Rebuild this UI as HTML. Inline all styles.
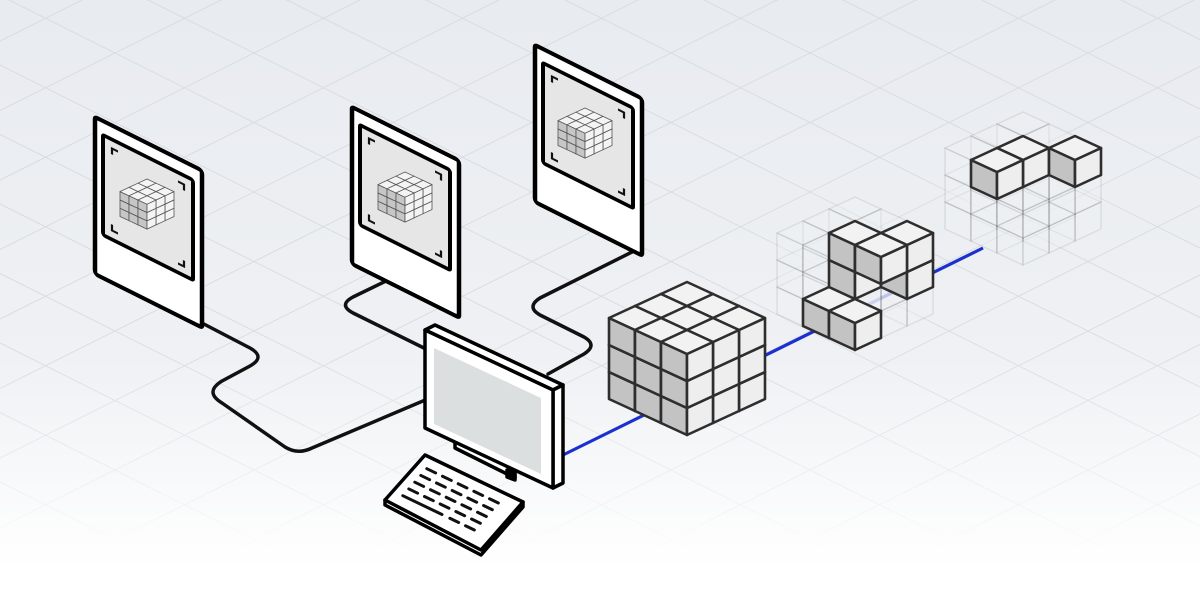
<!DOCTYPE html>
<html><head><meta charset="utf-8"><style>
html,body{margin:0;padding:0;width:1200px;height:600px;overflow:hidden;background:#fff}
svg{display:block;overflow:hidden}
</style></head><body>
<svg id="s" width="1200" height="600" viewBox="0 0 1200 600" xmlns="http://www.w3.org/2000/svg">
<defs>
<linearGradient id="bg" x1="0" y1="0" x2="0" y2="1">
<stop offset="0" stop-color="#e8ebf0"/><stop offset="0.6" stop-color="#eff1f4"/><stop offset="0.95" stop-color="#ffffff"/></linearGradient>
<linearGradient id="fm" x1="0" y1="0" x2="0" y2="1">
<stop offset="0" stop-color="#fff"/><stop offset="0.55" stop-color="#fff"/><stop offset="0.92" stop-color="#000"/></linearGradient>
<mask id="m"><rect width="1200" height="600" fill="url(#fm)"/></mask>
</defs>
<rect width="1200" height="600" fill="url(#bg)"/>
<g id="grid" mask="url(#m)" stroke="#d8dbe0" stroke-width="1"></g>
<g id="main"></g>
</svg>
<script>
var NS="http://www.w3.org/2000/svg";
function el(p,t,a){var e=document.createElementNS(NS,t);for(var k in a)e.setAttribute(k,a[k]);p.appendChild(e);return e;}
var grid=document.getElementById('grid'),g=document.getElementById('main');
for(var k=-20;k<30;k++){var c=-352+69.5*k;el(grid,'line',{x1:0,y1:c,x2:1200,y2:c+600});
var d=458+69.5*k;el(grid,'line',{x1:0,y1:d,x2:1200,y2:d-600});}
function pts(a){return a.map(function(p){return p[0].toFixed(1)+','+p[1].toFixed(1)}).join(' ');}
var cab={fill:'none',stroke:'#111','stroke-width':3.5,'stroke-linejoin':'round','stroke-linecap':'round'};
el(g,'path',Object.assign({d:'M200,322 L250,348 Q266,357 250,366 L222,381 Q204,392 222,403 L285,447 Q298,455 312,448 L430,398'},cab));
el(g,'path',Object.assign({d:'M388,280 L353,297 Q338,305 353,313 L432,352'},cab));
el(g,'path',Object.assign({d:'M640,248 L540,298 Q526,307 540,315 L584,337 Q598,345 584,354 L548,374'},cab));
el(g,'line',{x1:563,y1:455,x2:983,y2:248,stroke:'#1c30d0','stroke-width':3.2});
function cubes(ox,oy,dx,dy,h,list,st){
 list.sort(function(a,b){return (a[0]-a[1]+a[2])-(b[0]-b[1]+b[2]);});
 function P(x,y,z){return [ox+dx*(x+y),oy+dy*(x-y)-h*z];}
 list.forEach(function(c){var x=c[0],y=c[1],z=c[2];
  var top=[P(x,y,z+1),P(x+1,y,z+1),P(x+1,y+1,z+1),P(x,y+1,z+1)];
  var left=[P(x,y,z),P(x+1,y,z),P(x+1,y,z+1),P(x,y,z+1)];
  var right=[P(x+1,y,z),P(x+1,y+1,z),P(x+1,y+1,z+1),P(x+1,y,z+1)];
  el(g,'polygon',{points:pts(left),fill:st.g,stroke:st.s,'stroke-width':st.w,'stroke-linejoin':'round','fill-opacity':st.o});
  el(g,'polygon',{points:pts(right),fill:st.l,stroke:st.s,'stroke-width':st.w,'stroke-linejoin':'round','fill-opacity':st.o});
  el(g,'polygon',{points:pts(top),fill:st.t,stroke:st.s,'stroke-width':st.w,'stroke-linejoin':'round','fill-opacity':st.o});
 });}
function all3(){var r=[];for(var x=0;x<3;x++)for(var y=0;y<3;y++)for(var z=0;z<3;z++)r.push([x,y,z]);return r;}
var solid={g:'#c3c3c3',l:'#eeeeee',t:'#f2f2f2',s:'#2e2e2e',w:2.6,o:1};
var ghost={g:'#f0f2f5',l:'#f0f2f5',t:'#f0f2f5',s:'rgba(0,0,0,0.08)',w:1.5,o:0.3};
function panel(tx,ty,cx,cy){
 var pg=el(g,'g',{transform:'matrix(1,0.5,0,1,'+tx+','+ty+')'});
 el(pg,'rect',{x:0,y:0,width:107,height:157,rx:3,fill:'#fff',stroke:'#000','stroke-width':4.5});
 el(pg,'rect',{x:8,y:14,width:90,height:100,rx:2,fill:'#e6e6e6',stroke:'#000','stroke-width':4});
 var b={fill:'none',stroke:'#111','stroke-width':2.2};
 el(pg,'path',Object.assign({d:'M17,29 v-6 h6'},b));
 el(pg,'path',Object.assign({d:'M83,23 h6 v6'},b));
 el(pg,'path',Object.assign({d:'M17,99 v6 h6'},b));
 el(pg,'path',Object.assign({d:'M83,105 h6 v-6'},b));
 cubes(cx-27,cy+12.5,9,4.2,8.3,all3(),{g:'#c6c6c6',l:'#f4f4f4',t:'#f4f4f4',s:'#555',w:0.8,o:1});
}
panel(95,117,147,204);
panel(352,107,405,197);
panel(535,45,585,133);
var mk={stroke:'#000','stroke-width':3.5,'stroke-linejoin':'round'};
el(g,'polygon',Object.assign({points:'455,432 515,462 515,478 455,448',fill:'#fff'},mk));
el(g,'polygon',Object.assign({points:'507,470 515,474 515,480 507,477',fill:'#000'},mk));
el(g,'polygon',Object.assign({points:'425,330 435,325 563,385 553,390',fill:'#fff'},mk));
el(g,'polygon',Object.assign({points:'553,390 563,385 563,483 553,488',fill:'#fff'},mk));
el(g,'polygon',Object.assign({points:'425,330 553,390 553,488 425,428',fill:'#fff'},mk));
el(g,'polygon',{points:'434,348 541,398 541,474 434,424',fill:'#dcdfe0'});
el(g,'polygon',Object.assign({points:'385,500 385,505 481,555 523,507 523,502',fill:'#fff'},mk));
el(g,'polygon',Object.assign({points:'385,500 425,455 523,502 481,550',fill:'#fff'},mk));
(function(){var T=[425,455],L=[385,500],R=[523,502];
var vl=[L[0]-T[0],L[1]-T[1]],vr=[R[0]-T[0],R[1]-T[1]];
for(var r=0;r<5;r++){var t=0.2+0.15*r;var n=(r==4)?3:5;
 for(var c=0;c<n;c++){var s=0.1+0.16*c, e=s+((r==4&&c==0)?0.4:0.09); if(r==4&&c>0){s+=0.32;e=s+0.09;}
  el(g,'line',{x1:T[0]+vl[0]*t+vr[0]*s,y1:T[1]+vl[1]*t+vr[1]*s,x2:T[0]+vl[0]*t+vr[0]*e,y2:T[1]+vl[1]*t+vr[1]*e,stroke:'#111','stroke-width':3,'stroke-linecap':'round'});}}})();
cubes(609,399,26,12,27,all3(),solid);
cubes(777,314,26,12,27,all3(),ghost);
cubes(777,314,26,12,27,[[1,0,0],[2,0,0],[1,1,1],[1,1,2],[2,1,2],[2,2,2],[2,2,1]],solid);
cubes(945,229,26,12,27,all3(),ghost);
cubes(945,229,26,12,27,[[1,0,2],[1,1,2],[2,2,2]],solid);
</script>
</body></html>
